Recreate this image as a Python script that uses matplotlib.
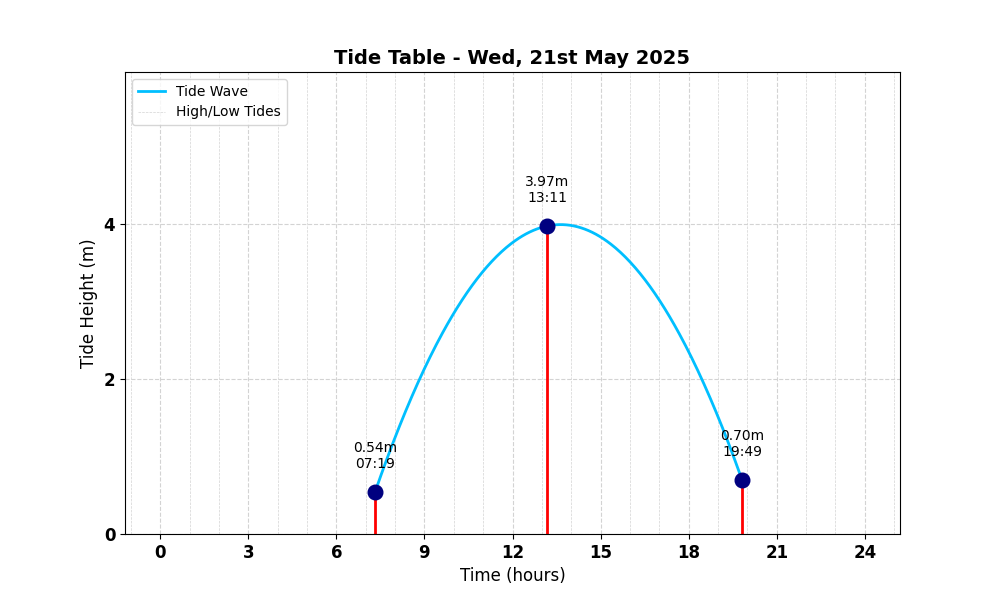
import numpy as np
import matplotlib
matplotlib.use("Agg")
import matplotlib.pyplot as plt
from matplotlib.lines import Line2D
from matplotlib.ticker import MultipleLocator

tide_times = [7 + 19/60, 13 + 11/60, 19 + 49/60]
tide_heights = [0.54, 3.97, 0.70]
tide_labels = ["07:19", "13:11", "19:49"]

fig, ax = plt.subplots(figsize=(10, 6), dpi=100)

coef = np.polyfit(tide_times, tide_heights, 2)
xs = np.linspace(tide_times[0], tide_times[-1], 300)
ax.plot(xs, np.polyval(coef, xs), color="deepskyblue", lw=2, label="Tide Wave", zorder=3)

ax.vlines(tide_times, 0, tide_heights, colors="red", lw=2, zorder=2)
ax.plot(tide_times, tide_heights, "o", ms=10.5, color="navy", zorder=4)
for t, h, lab in zip(tide_times, tide_heights, tide_labels):
    ax.annotate(f"{h:.2f}m\n{lab}", (t, h), xytext=(0, 15), textcoords="offset points",
                ha="center", va="bottom", fontsize=10)

ax.set_xlim(-1.2, 25.2)
ax.set_ylim(0, max(tide_heights) * 1.5)
ax.set_xticks(range(0, 25, 3))
ax.set_yticks([0, 2, 4])
ax.xaxis.set_minor_locator(MultipleLocator(1))
ax.tick_params(axis="x", which="minor", length=0)
ax.grid(True, which="major", linestyle="--", color="lightgray", lw=0.8)
ax.grid(True, which="minor", axis="x", linestyle="--", color="lightgray", lw=0.5)
ax.set_axisbelow(True)

for lbl in ax.get_xticklabels() + ax.get_yticklabels():
    lbl.set_fontweight("bold")
    lbl.set_fontsize(12)

ax.set_xlabel("Time (hours)", fontsize=12)
ax.set_ylabel("Tide Height (m)", fontsize=12)
ax.set_title("Tide Table - Wed, 21st May 2025", fontsize=14, fontweight="bold")

handles = [Line2D([], [], color="deepskyblue", lw=2),
           Line2D([], [], color="lightgray", lw=0.5, linestyle="--")]
ax.legend(handles, ["Tide Wave", "High/Low Tides"], loc="upper left")

fig.savefig("out.png", dpi=100)
